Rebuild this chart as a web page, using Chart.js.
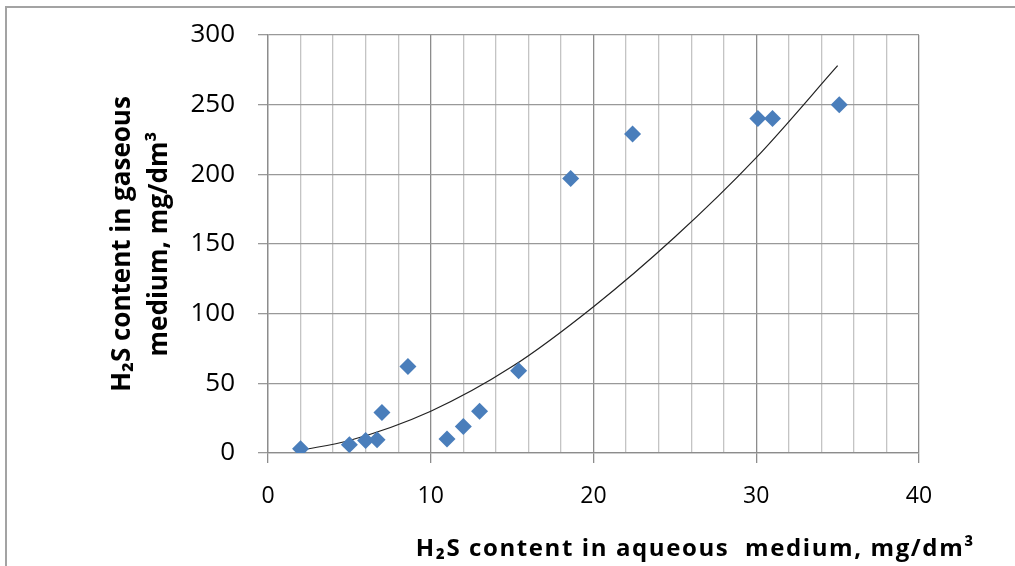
<!DOCTYPE html>
<html>
<head>
<meta charset="utf-8">
<script src="https://cdn.jsdelivr.net/npm/chart.js@4.4.1/dist/chart.umd.min.js"></script>
<style>
  body { margin: 0; background: #fff; }
  #wrap { position: relative; width: 1015px; height: 566px; overflow: hidden; }
  #frame { position: absolute; left: 5px; top: 6px; width: 1100px; height: 700px;
           border-left: 2px solid #a3a3a3; border-top: 2px solid #a3a3a3; }
  #chart { position: absolute; left: 0; top: 0; }
</style>
</head>
<body>
<div id="wrap">
  <div id="frame"></div>
  <canvas id="chart" width="1015" height="566"></canvas>
</div>
<script>
// measured points: H2S in water vs H2S in gas (mg/dm3)
const aqueous = [2, 5, 6, 6.7, 7, 8.6, 11, 12, 13, 15.4, 18.6, 22.4, 30.1, 31, 35.1];
const gaseous = [3, 6, 9, 9.5, 29, 62, 10, 19, 30, 59, 197, 229, 240, 240, 250];

// trend curve
const trendX = [2, 5, 10, 15, 20, 25, 30, 35];
const trendY = [2, 9, 30, 62, 105, 155, 212, 278];

const xTicks = [0, 10, 20, 30, 40];

const points = aqueous.map((x, i) => ({ x, y: gaseous[i] }));
const trend = trendX.map((x, i) => ({ x, y: trendY[i] }));

const PLOT_LEFT = 268, PLOT_BOTTOM = 453;

// x axis title sits off-centre to the right, drawn here
const xTitle = {
  id: "xTitle",
  afterDraw(chart) {
    const ctx = chart.ctx;
    const area = chart.chartArea;
    ctx.save();
    ctx.font = "bold 24px 'Open Sans'";
    ctx.letterSpacing = "1.6px";
    ctx.fillStyle = "#000";
    ctx.textBaseline = "middle";
    ctx.textAlign = "right";
    ctx.fillText("H\u2082S content in aqueous  medium, mg/dm\u00b3", area.right + 56, 549);
    ctx.restore();
  }
};

new Chart(document.getElementById("chart"), {
  type: "scatter",
  data: {
    datasets: [
      {
        label: "H2S",
        data: points,
        pointStyle: "rectRot",
        pointRadius: 8.5,
        pointHoverRadius: 8.5,
        backgroundColor: "#4a7ebb",
        borderColor: "#4a7ebb",
        borderWidth: 0
      },
      {
        label: "trend",
        type: "line",
        data: trend,
        showLine: true,
        borderColor: "#222",
        borderWidth: 1.2,
        pointRadius: 0,
        fill: false,
        cubicInterpolationMode: "monotone"
      }
    ]
  },
  options: {
    responsive: false,
    animation: false,
    layout: { padding: { left: 0, top: 35, right: 96, bottom: 0 } },
    plugins: {
      legend: { display: false },
      tooltip: { enabled: false }
    },
    scales: {
      x: {
        type: "linear",
        min: 0,
        max: 40,
        afterFit: s => { s.height = 566 - PLOT_BOTTOM; },
        afterBuildTicks: s => {
          const t = [];
          for (let v = 0; v <= 40; v += 2) t.push({ value: v });
          s.ticks = t;
        },
        ticks: {
          autoSkip: false,
          maxRotation: 0,
          padding: 20,
          color: "#000",
          font: { family: "'Open Sans'", size: 23 },
          callback: v => xTicks.includes(v) ? String(v) : ""
        },
        grid: {
          color: c => c.tick.value % 10 === 0 ? "#8c8c8c" : "#c4c4c4",
          tickColor: c => c.tick.value % 10 === 0 ? "#8c8c8c" : "rgba(0,0,0,0)",
          tickLength: 10,
          lineWidth: 1.3
        },
        border: { color: "#8c8c8c", width: 1.3 }
      },
      y: {
        min: 0,
        max: 300,
        afterFit: s => {
          s.width = PLOT_LEFT;
          s.paddingTop = 0;
          s.paddingBottom = 0;
        },
        ticks: {
          stepSize: 50,
          padding: 23,
          color: "#000",
          font: { family: "'Open Sans'", size: 26 }
        },
        grid: {
          color: "#999",
          tickColor: "#999",
          tickLength: 10,
          lineWidth: 1.3
        },
        border: { color: "#8c8c8c", width: 1.3 },
        title: {
          display: true,
          text: ["H\u2082S content in gaseous", "medium, mg/dm\u00b3"],
          color: "#000",
          font: { family: "'Open Sans'", size: 26, weight: "bold", lineHeight: 1.42 },
          padding: { top: 104, bottom: 0 }
        }
      }
    }
  },
  plugins: [xTitle]
});
</script>
</body>
</html>
